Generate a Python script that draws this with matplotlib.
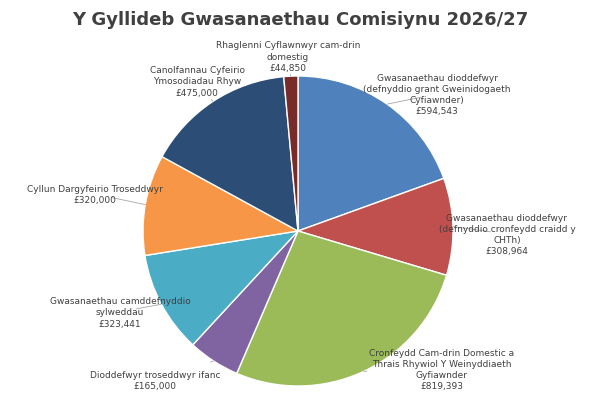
import matplotlib.pyplot as plt
import numpy as np

labels = ["Gwasanaethau dioddefwyr\n(defnyddio grant Gweinidogaeth\nCyfiawnder)\n£594,543",
          "Gwasanaethau dioddefwyr\n(defnyddio cronfeydd craidd y\nCHTh)\n£308,964",
          "Cronfeydd Cam-drin Domestic a\nThrais Rhywiol Y Weinyddiaeth\nGyfiawnder\n£819,393",
          "Dioddefwyr troseddwyr ifanc\n£165,000",
          "Gwasanaethau camddefnyddio\nsylweddau\n£323,441",
          "Cyllun Dargyfeirio Troseddwyr\n£320,000",
          "Canolfannau Cyfeirio\nYmosodiadau Rhyw\n£475,000",
          "Rhaglenni Cyflawnwyr cam-drin\ndomestig\n£44,850"]
values = [594543, 308964, 819393, 165000, 323441, 320000, 475000, 44850]
colors = ["#4F81BD", "#C0504D", "#9BBB59", "#8064A2", "#4BACC6", "#F79646", "#2C4D75", "#772C2A"]

W, H = 600, 406
fig = plt.figure(figsize=(6, 4.06), dpi=100)
cx, cy, r = 298, 232, 155
ax = fig.add_axes([(cx - r) / W, (H - cy - r) / H, 2 * r / W, 2 * r / H])
wedges, _ = ax.pie(values, colors=colors, startangle=90, counterclock=False,
                   wedgeprops=dict(edgecolor="white", linewidth=1))
ax.set_xlim(-1, 1); ax.set_ylim(-1, 1); ax.set_aspect("equal")
fig.text(0.5, 1 - 20 / H, "Y Gyllideb Gwasanaethau Comisiynu 2026/27",
         ha="center", va="center", fontsize=13, fontweight="bold", color="#404040")

pos = [(437, 95), (507, 235), (442, 370), (155, 381), (120, 313), (95, 195), (197, 82), (288, 57)]
for w, lab, (px, py) in zip(wedges, labels, pos):
    a = np.deg2rad((w.theta1 + w.theta2) / 2)
    ax.annotate(lab, xy=(np.cos(a), np.sin(a)), xytext=(px / W, 1 - py / H),
                textcoords="figure fraction", ha="center", va="center",
                fontsize=6.5, color="#404040", linespacing=1.3,
                arrowprops=dict(arrowstyle="-", color="#A6A6A6", lw=0.6, shrinkA=12, shrinkB=0))
fig.savefig("out.png", dpi=100)
